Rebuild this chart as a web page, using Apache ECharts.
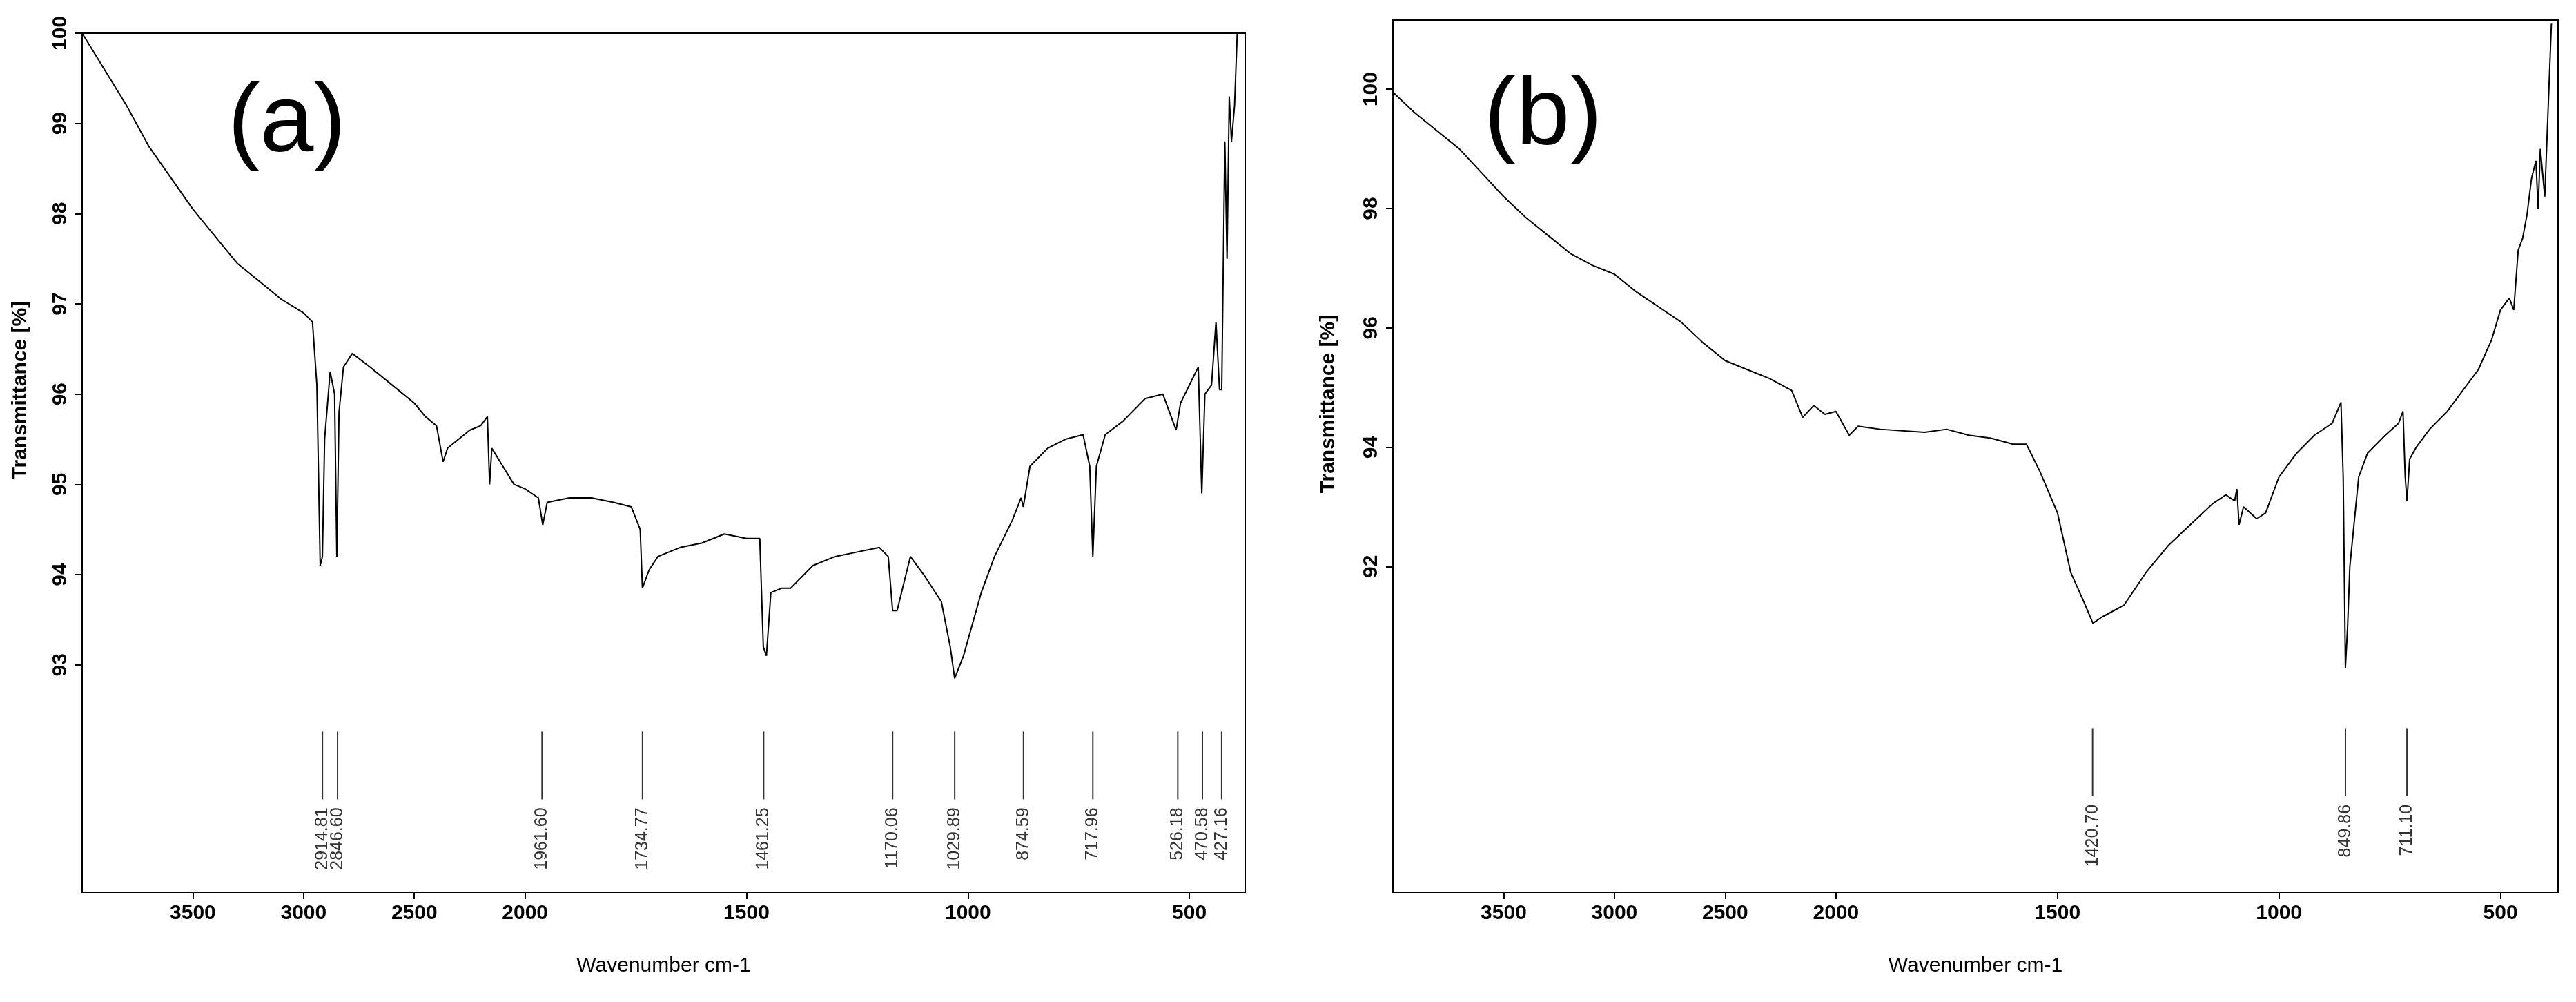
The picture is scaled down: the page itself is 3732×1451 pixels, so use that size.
<!DOCTYPE html>
<html>
<head>
<meta charset="utf-8">
<script src="https://cdn.jsdelivr.net/npm/echarts@6/dist/echarts.min.js"></script>
<style>
html,body{margin:0;padding:0;background:#fff;}
#chart{width:3732px;height:1451px;}
</style>
</head>
<body>
<div id="chart"></div>
<script>
// spectrum (a): wavenumber / transmittance
var waveA = [4000,3900,3800,3700,3600,3500,3400,3300,3200,3100,3000,2960,2940,2925,2915,2905,2880,2860,2850,2840,2820,2780,2700,2600,2500,2450,2400,2370,2350,2300,2250,2200,2170,2160,2150,2100,2050,2000,1970,1960,1950,1900,1850,1800,1760,1740,1735,1720,1700,1650,1600,1550,1500,1470,1462,1455,1445,1420,1400,1350,1300,1250,1200,1180,1170,1160,1130,1100,1060,1040,1030,1010,970,940,900,880,875,860,820,780,740,725,718,710,690,650,600,560,530,520,490,480,472,465,450,440,432,427,420,415,410,405,398,392];
var transA = [100,99.6,99.2,98.75,98.4,98.05,97.75,97.45,97.25,97.05,96.9,96.8,96.1,94.1,94.2,95.5,96.25,96.0,94.2,95.8,96.3,96.45,96.3,96.1,95.9,95.75,95.65,95.25,95.4,95.5,95.6,95.65,95.75,95.0,95.4,95.2,95.0,94.95,94.85,94.55,94.8,94.85,94.85,94.8,94.75,94.5,93.85,94.05,94.2,94.3,94.35,94.45,94.4,94.4,93.2,93.1,93.8,93.85,93.85,94.1,94.2,94.25,94.3,94.2,93.6,93.6,94.2,94.0,93.7,93.2,92.85,93.1,93.8,94.2,94.6,94.85,94.75,95.2,95.4,95.5,95.55,95.2,94.2,95.2,95.55,95.7,95.95,96.0,95.6,95.9,96.2,96.3,94.9,96.0,96.1,96.8,96.05,96.05,98.8,97.5,99.3,98.8,99.2,100];
var peaksA = [2914.81,2846.60,1961.60,1734.77,1461.25,1170.06,1029.89,874.59,717.96,526.18,470.58,427.16];

// spectrum (b)
var waveB = [4000,3900,3800,3700,3600,3500,3400,3300,3200,3100,3000,2900,2800,2700,2600,2500,2400,2300,2200,2150,2100,2050,2000,1970,1950,1900,1800,1750,1700,1650,1600,1570,1540,1500,1470,1440,1420,1400,1350,1300,1250,1200,1150,1120,1100,1095,1090,1080,1050,1030,1000,960,920,880,860,855,850,845,840,820,800,760,730,720,715,711,705,690,660,620,600,550,520,500,480,470,460,450,440,430,420,415,410,400,385];
var transB = [99.95,99.6,99.3,99.0,98.6,98.2,97.85,97.55,97.25,97.05,96.9,96.6,96.35,96.1,95.75,95.45,95.3,95.15,94.95,94.5,94.7,94.55,94.6,94.2,94.35,94.3,94.25,94.3,94.2,94.15,94.05,94.05,93.6,92.9,91.9,91.4,91.05,91.15,91.35,91.9,92.35,92.7,93.05,93.2,93.1,93.3,92.7,93.0,92.8,92.9,93.5,93.9,94.2,94.4,94.75,93.5,90.3,91.0,92.0,93.5,93.9,94.2,94.4,94.6,93.5,93.1,93.8,94.0,94.3,94.6,94.8,95.3,95.8,96.3,96.5,96.3,97.3,97.5,97.9,98.5,98.8,98.0,99.0,98.2,101.1];
var peaksB = [1420.70,849.86,711.10];

var xTicks = [3500,3000,2500,2000,1500,1000,500];
var yTicksA = [93,94,95,96,97,98,99,100];
var yTicksB = [92,94,96,98,100];

// instrument axis is compressed by 2 above 2000 cm-1
function toAxis(w){ return w > 2000 ? 2000 + (w - 2000) / 2 : w; }
function fromAxis(u){ return u > 2000 ? 2000 + (u - 2000) * 2 : u; }

var font = 'Liberation Sans';
function makeX(idx, minW){
    return {
        gridIndex: idx, type: 'value', inverse: true,
        min: toAxis(minW), max: toAxis(4000),
        axisLine: {show: false}, splitLine: {show: false},
        axisTick: {show: true, customValues: xTicks.map(toAxis), length: 10, lineStyle: {color: '#000', width: 2}},
        axisLabel: {customValues: xTicks.map(toAxis), formatter: function(v){ return Math.round(fromAxis(v)); },
            fontFamily: font, fontWeight: 'bold', fontSize: 30, color: '#000', margin: 16},
        name: 'Wavenumber cm-1', nameLocation: 'middle', nameGap: 92,
        nameTextStyle: {fontFamily: font, fontSize: 30, color: '#000'}
    };
}
function makeY(idx, min, max, ticks){
    return {
        gridIndex: idx, type: 'value', min: min, max: max,
        axisLine: {show: false}, splitLine: {show: false},
        axisTick: {show: true, customValues: ticks, length: 10, lineStyle: {color: '#000', width: 2}},
        axisLabel: {customValues: ticks, rotate: 90, fontFamily: font, fontWeight: 'bold', fontSize: 30, color: '#000', margin: 16}
    };
}
function lineData(w, t){
    return w.map(function(x, i){ return [toAxis(x), t[i]]; });
}
function peakSeries(idx, peaks, yTop, yBot){
    return {
        type: 'custom', xAxisIndex: idx, yAxisIndex: idx, silent: true,
        data: peaks.map(function(p){ return [toAxis(p), p]; }),
        renderItem: function(params, api){
            var a = api.coord([api.value(0), yTop]);
            var b = api.coord([api.value(0), yBot]);
            return {type: 'group', children: [
                {type: 'line', shape: {x1: a[0], y1: a[1], x2: b[0], y2: b[1]}, style: {stroke: '#333', lineWidth: 2}},
                {type: 'text', x: b[0], y: b[1] + 12, rotation: Math.PI / 2,
                    style: {text: api.value(1).toFixed(2), fontFamily: font, fontSize: 25, fill: '#333', align: 'right', verticalAlign: 'middle'}}
            ]};
        }
    };
}
function yTitle(x, y){
    return {type: 'text', x: x, y: y, rotation: Math.PI / 2,
        style: {text: 'Transmittance [%]', fontFamily: font, fontWeight: 'bold', fontSize: 30, fill: '#000', align: 'center', verticalAlign: 'middle'}};
}

var chart = echarts.init(document.getElementById('chart'));
chart.setOption({
    animation: false,
    backgroundColor: '#fff',
    grid: [
        {left: 119, width: 1685, top: 48, height: 1244, show: true, borderColor: '#000', borderWidth: 2, backgroundColor: 'transparent'},
        {left: 2018, width: 1688, top: 29, height: 1263, show: true, borderColor: '#000', borderWidth: 2, backgroundColor: 'transparent'}
    ],
    xAxis: [makeX(0, 374), makeX(1, 370)],
    yAxis: [makeY(0, 90.48, 100, yTicksA), makeY(1, 86.54, 101.16, yTicksB)],
    graphic: [
        {type: 'text', left: 330, top: 110, style: {text: '(a)', fontFamily: font, fontSize: 140, fill: '#000'}},
        {type: 'text', left: 2150, top: 100, style: {text: '(b)', fontFamily: font, fontSize: 140, fill: '#000'}},
        yTitle(30, 565),
        yTitle(1925, 585)
    ],
    series: [
        {type: 'line', xAxisIndex: 0, yAxisIndex: 0, data: lineData(waveA, transA), showSymbol: false, lineStyle: {color: '#000', width: 2}},
        {type: 'line', xAxisIndex: 1, yAxisIndex: 1, data: lineData(waveB, transB), showSymbol: false, lineStyle: {color: '#000', width: 2}},
        peakSeries(0, peaksA, 92.26, 91.51),
        peakSeries(1, peaksB, 89.29, 88.15)
    ]
});
</script>
</body>
</html>
